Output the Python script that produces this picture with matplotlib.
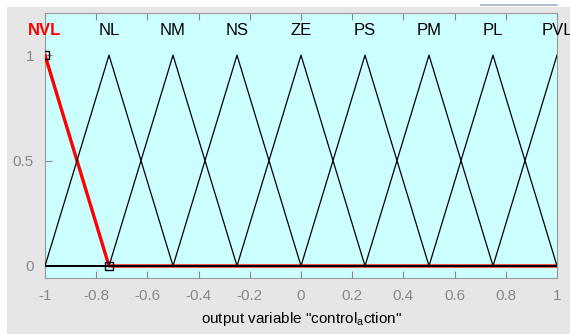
import numpy as np
import matplotlib.pyplot as plt
from matplotlib.patches import Rectangle
from matplotlib.lines import Line2D

plt.rcParams['font.family'] = ['Liberation Sans Narrow', 'Liberation Sans', 'DejaVu Sans']

# membership functions of the output variable (trimf: left, peak, right)
mf_names = ['NVL', 'NL', 'NM', 'NS', 'ZE', 'PS', 'PM', 'PL', 'PVL']
mf_left = [-1.25, -1.0, -0.75, -0.5, -0.25, 0.0, 0.25, 0.5, 0.75]
mf_peak = [-1.0, -0.75, -0.5, -0.25, 0.0, 0.25, 0.5, 0.75, 1.0]
mf_right = [-0.75, -0.5, -0.25, 0.0, 0.25, 0.5, 0.75, 1.0, 1.25]
selected = 0  # NVL highlighted

x_ticks = [-1, -0.8, -0.6, -0.4, -0.2, 0, 0.2, 0.4, 0.6, 0.8, 1]
y_ticks = [0, 0.5, 1]


def trimf(x, a, b, c):
    return np.maximum(np.minimum((x - a) / (b - a), (c - x) / (c - b)), 0)


fig = plt.figure(figsize=(5.7, 3.34), dpi=100, facecolor='white')
fig.add_artist(Rectangle((7 / 570, 0), 1, 1 - 7 / 334, transform=fig.transFigure,
                         facecolor='#e6e6e6', edgecolor='none', zorder=-10))
fig.add_artist(Line2D([481 / 570, 557 / 570], [1 - 5 / 334, 1 - 5 / 334],
                      transform=fig.transFigure, color='#9fb0c8', lw=1.2))

ax = fig.add_axes([45 / 570, 1 - 278 / 334, 512 / 570, 265 / 334])
ax.set_facecolor('#ccffff')

x = np.linspace(-1, 1, 2001)
for i, name in enumerate(mf_names):
    y = trimf(x, mf_left[i], mf_peak[i], mf_right[i])
    if i == selected:
        ax.plot(x, y, color='red', lw=2.4, zorder=3)
        ax.plot([mf_peak[i], mf_right[i]], [1, 0], ls='none', marker='s', ms=6,
                mfc='none', mec='black', mew=1.0, zorder=5)
        ax.text(mf_peak[i], 1.115, name, color='red', fontweight='bold',
                ha='center', va='center', fontsize=12)
    else:
        ax.plot(x, y, color='black', lw=0.9, zorder=4)
        ax.text(mf_peak[i], 1.115, name, color='black',
                ha='center', va='center', fontsize=12)

ax.set_xlim(-1, 1)
ax.set_ylim(-0.057, 1.2)
ax.set_xticks(x_ticks)
ax.set_xticklabels([f'{t:g}' for t in x_ticks])
ax.set_yticks(y_ticks)
ax.set_yticklabels([f'{t:g}' for t in y_ticks])
ax.tick_params(direction='in', length=5, colors='#888888', labelsize=11,
               top=True, labelcolor='#888888', pad=8)
for s in ax.spines.values():
    s.set_color('#999999')
ax.set_xlabel('output variable "control$_{\\mathregular{a}}$ction"', fontsize=11,
              color='black', labelpad=5)

fig.savefig('out.png', dpi=100, facecolor=fig.get_facecolor())
